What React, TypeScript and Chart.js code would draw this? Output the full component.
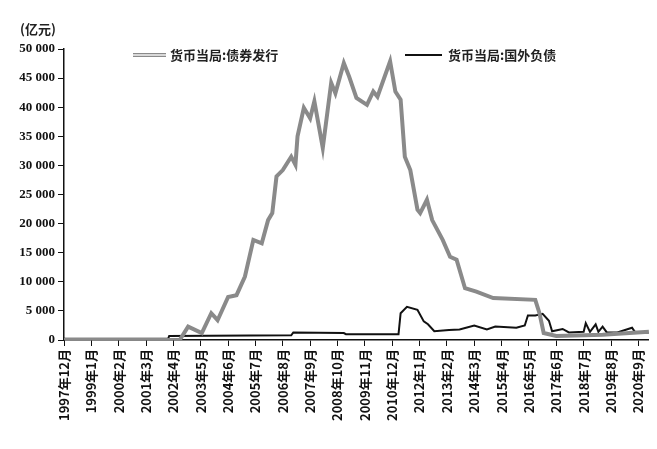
import React, { useEffect, useRef } from "react";
import { Chart, registerables } from "chart.js";
Chart.register(...registerables);

// month index 0 = 1997年12月
const startYear = 1997;
const startMonth = 12;
const tickStep = 13;

const bondMonths = [0, 50, 55, 59, 65.5, 70, 73, 78, 82, 86, 90, 94, 97, 99, 101, 104, 108, 110, 111, 114, 117, 119, 123, 127, 129, 133, 135.5, 139, 144, 147, 149, 155, 157.5, 160, 162, 164.6, 168, 169.3, 172.5, 175, 180, 183.5, 186.6, 190.6, 196, 204, 224, 226, 228, 234, 256, 278];
const bondValues = [0, 0, 0.2, 2300, 1200, 4600, 3400, 7400, 7700, 10900, 17200, 16600, 20600, 21800, 28100, 29200, 31500, 30100, 35000, 39900, 38100, 41000, 33000, 44200, 42400, 47600, 45300, 41600, 40400, 42700, 41800, 47900, 42700, 41300, 31500, 29200, 22400, 21800, 24100, 20600, 17200, 14300, 13800, 8900, 8300, 7200, 6900, 4600, 1200, 700, 900, 1400];

const debtMonths = [0, 49.5, 50, 108, 109, 133, 134, 159, 160, 163, 168, 171, 173, 176, 183, 188, 195, 201, 205, 215, 219, 220.5, 224, 227.5, 230.5, 232, 237, 240, 247, 248, 250, 252.7, 254, 256, 258, 263, 270, 271.5, 278];
const debtValues = [200, 200, 700, 800, 1300, 1200, 1000, 1000, 4600, 5700, 5200, 3200, 2700, 1500, 1700, 1800, 2500, 1800, 2300, 2100, 2500, 4200, 4200, 4500, 3300, 1500, 1900, 1300, 1400, 2900, 1400, 2700, 1400, 2300, 1300, 1300, 2100, 1300, 1300];

const bondLabel = "货币当局:债券发行";
const debtLabel = "货币当局:国外负债";
const unitLabel = "(亿元)";

const pts = (xs: number[], ys: number[]) => xs.map((x, i) => ({ x, y: ys[i] }));

const monthLabel = (m: number) => {
  const total = startYear * 12 + (startMonth - 1) + m;
  return `${Math.floor(total / 12)}年${(total % 12) + 1}月`;
};

const overlay = {
  id: "overlay",
  afterDraw(chart: any) {
    const ctx = chart.ctx;
    ctx.save();
    ctx.fillStyle = "#222";
    ctx.font = "bold 13px 'Noto Sans CJK SC'";
    ctx.textBaseline = "middle";
    ctx.fillText(unitLabel, 20, 29);
    const y = 55;
    ctx.lineWidth = 4; ctx.strokeStyle = "#8a8a8a";
    ctx.beginPath(); ctx.moveTo(133, y); ctx.lineTo(166, y); ctx.stroke();
    ctx.lineWidth = 1.5; ctx.strokeStyle = "#f2f2f2";
    ctx.beginPath(); ctx.moveTo(133, y); ctx.lineTo(166, y); ctx.stroke();
    ctx.fillText(bondLabel, 170, y);
    ctx.lineWidth = 2; ctx.strokeStyle = "#111";
    ctx.beginPath(); ctx.moveTo(405, y); ctx.lineTo(442, y); ctx.stroke();
    ctx.fillText(debtLabel, 448, y);
    ctx.restore();
  },
};

export default function App() {
  const ref = useRef<HTMLCanvasElement>(null);
  useEffect(() => {
    const chart = new Chart(ref.current!, {
      type: "line",
      data: {
        datasets: [
          { label: bondLabel, data: pts(bondMonths, bondValues), borderColor: "#8a8a8a", borderWidth: 4, pointRadius: 0, tension: 0 },
          { label: bondLabel + "-in", data: pts(bondMonths, bondValues), borderColor: "#f2f2f2", borderWidth: 1.5, pointRadius: 0, tension: 0 },
          { label: debtLabel, data: pts(debtMonths, debtValues), borderColor: "#111", borderWidth: 2, pointRadius: 0, tension: 0 },
        ],
      },
      options: {
        animation: false,
        responsive: false,
        layout: { padding: { top: 49, right: 2, left: 0, bottom: 0 } },
        plugins: { legend: { display: false }, tooltip: { enabled: false } },
        scales: {
          x: {
            type: "linear", min: 0, max: 278,
            afterBuildTicks: (s: any) => { const t = []; for (let m = 0; m <= 273; m += tickStep) t.push({ value: m }); s.ticks = t; },
            afterFit: (s: any) => { s.height = 109; },
            grid: { drawOnChartArea: false, color: "#111", tickLength: 6 },
            border: { color: "#111", width: 1.5 },
            ticks: { minRotation: 90, maxRotation: 90, autoSkip: false, color: "#111", font: { size: 13, family: "'Noto Sans CJK SC'", weight: "bold" }, callback: (v: any) => monthLabel(Number(v)) },
          },
          y: {
            min: 0, max: 50000,
            afterFit: (s: any) => { s.width = 64; },
            grid: { drawOnChartArea: false, color: "#111", tickLength: 6 },
            border: { color: "#111", width: 1.5 },
            ticks: { stepSize: 5000, color: "#111", font: { size: 13, family: "'Liberation Serif'", weight: "bold" }, callback: (v: any) => Number(v).toLocaleString("en-US").replace(",", " ") },
          },
        },
      },
      plugins: [overlay],
    });
    return () => chart.destroy();
  }, []);
  return (
    <div style={{ position: "absolute", left: 0, top: 0, width: 657, height: 449, background: "#fff" }}>
      <canvas ref={ref} width={657} height={449} />
    </div>
  );
}
